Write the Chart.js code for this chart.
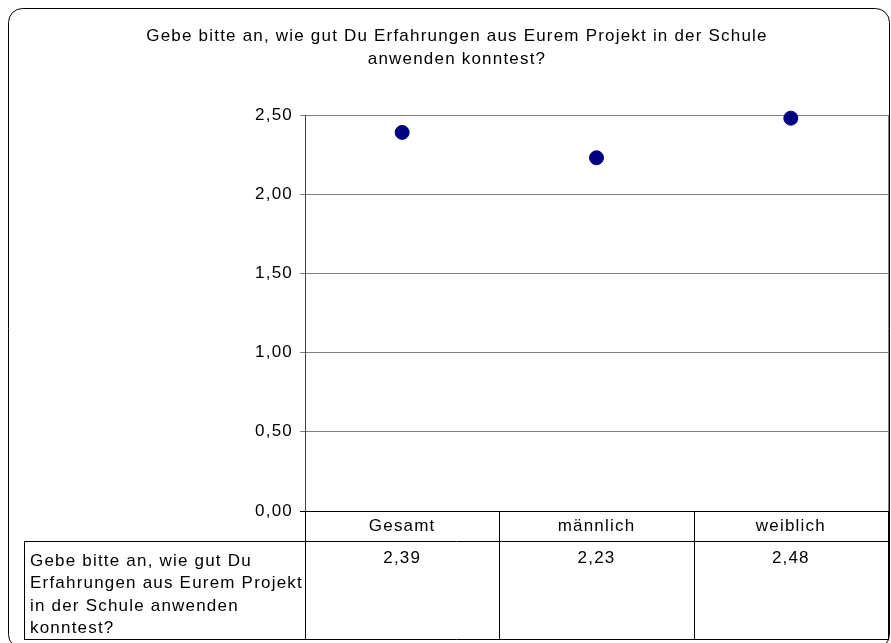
<!DOCTYPE html>
<html>
<head>
<meta charset="utf-8">
<script src="https://cdn.jsdelivr.net/npm/chart.js@4"></script>
<style>
    body { margin: 0; background: #fff; }
    canvas { display: block; }
</style>
</head>
<body>
<canvas id="chart" width="891" height="643"></canvas>
<script>
// Chart data
const categories = ['Gesamt', 'männlich', 'weiblich'];
const meanValues = [2.39, 2.23, 2.48];
const yTicks = [0, 0.5, 1, 1.5, 2, 2.5];
const titleLines = ['Gebe bitte an, wie gut Du Erfahrungen aus Eurem Projekt in der Schule', 'anwenden konntest?'];
const rowLabelLines = ['Gebe bitte an, wie gut Du', 'Erfahrungen aus Eurem Projekt', 'in der Schule anwenden', 'konntest?'];

const FONT_FAMILY = '"Liberation Sans", Arial, sans-serif';
const FONT = '17px ' + FONT_FAMILY;
const SPACING = '1.2px'; // excel text looks wider than plain Arial

// German number format: 2,50
function formatComma(v) {
    return Number(v).toFixed(2).replace('.', ',');
}

function crisp(v) {
    return Math.round(v) + 0.5;
}

// Draws the rounded frame, the title and the data table under the plot
const excelFrame = {
    id: 'excelFrame',
    afterInit(chart) {
        chart.ctx.letterSpacing = SPACING;
    },
    beforeUpdate(chart) {
        chart.ctx.letterSpacing = SPACING;
    },
    beforeDraw(chart) {
        const ctx = chart.ctx;
        ctx.letterSpacing = SPACING;
        ctx.save();
        ctx.strokeStyle = '#000';
        ctx.lineWidth = 1;
        ctx.beginPath();
        ctx.roundRect(8.5, 8.5, 881, 640, 14);
        ctx.stroke();

        ctx.fillStyle = '#000';
        ctx.font = FONT;
        ctx.textAlign = 'center';
        ctx.textBaseline = 'middle';
        titleLines.forEach((line, i) => ctx.fillText(line, 457, 36 + i * 23));
        ctx.restore();
    },
    afterDraw(chart) {
        const ctx = chart.ctx;
        const area = chart.chartArea;
        const xScale = chart.scales.x;
        const step = (area.right - area.left) / categories.length;
        const headBottom = 541;
        const tableBottom = 639;
        const tableLeft = 24;

        ctx.save();
        ctx.letterSpacing = SPACING;
        ctx.lineWidth = 1;

        // right edge of plot area
        ctx.strokeStyle = '#808080';
        ctx.beginPath();
        ctx.moveTo(crisp(area.right), area.top);
        ctx.lineTo(crisp(area.right), area.bottom);
        ctx.stroke();

        // table grid
        ctx.strokeStyle = '#000';
        ctx.beginPath();
        ctx.moveTo(tableLeft, crisp(headBottom));
        ctx.lineTo(crisp(area.right) + 0.5, crisp(headBottom));
        ctx.moveTo(tableLeft, crisp(tableBottom));
        ctx.lineTo(crisp(area.right) + 0.5, crisp(tableBottom));
        ctx.moveTo(crisp(tableLeft), headBottom);
        ctx.lineTo(crisp(tableLeft), tableBottom + 1);
        for (let k = 0; k <= categories.length; k++) {
            const x = crisp(area.left + k * step);
            ctx.moveTo(x, area.bottom);
            ctx.lineTo(x, tableBottom + 1);
        }
        ctx.stroke();

        // table text
        ctx.fillStyle = '#000';
        ctx.font = FONT;
        ctx.textBaseline = 'middle';
        ctx.textAlign = 'center';
        categories.forEach((cat, i) => {
            const cx = xScale.getPixelForValue(i);
            ctx.fillText(cat, cx, 526);
            ctx.fillText(formatComma(meanValues[i]), cx, 558);
        });
        ctx.textAlign = 'left';
        rowLabelLines.forEach((line, i) => ctx.fillText(line, 30, 561 + i * 22.5));
        ctx.restore();
    }
};

new Chart(document.getElementById('chart'), {
    type: 'line',
    data: {
        labels: categories,
        datasets: [{
            data: meanValues,
            showLine: false,
            clip: false,
            pointRadius: 7,
            pointHoverRadius: 7,
            pointBackgroundColor: '#000080',
            pointBorderColor: '#000080',
            pointBorderWidth: 1
        }]
    },
    options: {
        responsive: false,
        animation: false,
        events: [],
        layout: {
            autoPadding: false,
            padding: { left: 0, top: 115, right: 3, bottom: 132 }
        },
        plugins: {
            legend: { display: false },
            title: { display: false },
            tooltip: { enabled: false }
        },
        scales: {
            x: {
                display: false,
                offset: true
            },
            y: {
                min: yTicks[0],
                max: yTicks[yTicks.length - 1],
                afterFit(scale) {
                    scale.width = 305;
                },
                ticks: {
                    stepSize: yTicks[1] - yTicks[0],
                    padding: 7,
                    color: '#000',
                    font: { family: FONT_FAMILY, size: 17 },
                    callback: v => formatComma(v)
                },
                grid: {
                    color: c => (c.tick && c.tick.value === 0 ? '#000' : '#808080'),
                    tickLength: 5
                },
                border: { color: '#404040' }
            }
        }
    },
    plugins: [excelFrame]
});
</script>
</body>
</html>
